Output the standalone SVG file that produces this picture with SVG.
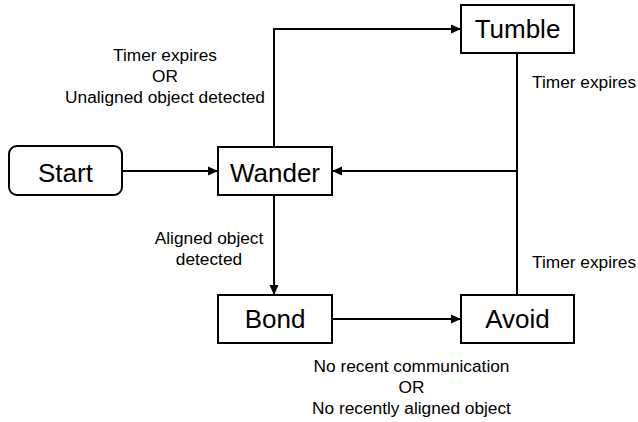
<svg xmlns="http://www.w3.org/2000/svg" width="638" height="422" viewBox="0 0 638 422">
<defs>
<style>
.box{fill:#fff;stroke:#000;stroke-width:2}
.nt{font-family:"Liberation Sans",Arial,sans-serif;font-size:26px;fill:#000;text-anchor:middle}
.lt{font-family:"Liberation Sans",Arial,sans-serif;font-size:17.3px;fill:#000}
.c{fill:none;stroke:#000;stroke-width:2}
</style>
<marker id="ah" markerUnits="userSpaceOnUse" markerWidth="12" markerHeight="12" viewBox="0 0 12 12" refX="11" refY="6" orient="auto">
<path d="M1,1.5 L11,6 L1,10.5 Z" fill="#000"/>
</marker>
</defs>
<rect width="638" height="422" fill="#fff"/>
<g id="connectors">
<path class="c" d="M122,171 H218" marker-end="url(#ah)"/>
<path class="c" d="M274,147 V29 H461" marker-end="url(#ah)"/>
<path class="c" d="M274,195 V295" marker-end="url(#ah)"/>
<path class="c" d="M332,319 H461" marker-end="url(#ah)"/>
<path class="c" d="M517,53 V171 H332" marker-end="url(#ah)"/>
<path class="c" d="M517,295 V171"/>
</g>
<g id="labels">
<text class="lt" text-anchor="middle"><tspan x="165" y="61">Timer expires</tspan><tspan x="165" y="82">OR</tspan><tspan x="165" y="103">Unaligned object detected</tspan></text>
<text class="lt" text-anchor="middle"><tspan x="209" y="244">Aligned object</tspan><tspan x="209" y="265">detected</tspan></text>
<text class="lt" x="532" y="88">Timer expires</text>
<text class="lt" x="532" y="268">Timer expires</text>
<text class="lt" text-anchor="middle"><tspan x="411.5" y="372">No recent communication</tspan><tspan x="411.5" y="393">OR</tspan><tspan x="411.5" y="414">No recently aligned object</tspan></text>
</g>
<g id="start"><rect class="box" x="9" y="146" width="113" height="49" rx="8"/><text class="nt" x="65.5" y="182">Start</text></g>
<g id="wander"><rect class="box" x="218" y="147" width="114" height="48"/><text class="nt" x="275" y="182">Wander</text></g>
<g id="tumble"><rect class="box" x="461" y="5" width="113" height="48"/><text class="nt" x="517.5" y="38">Tumble</text></g>
<g id="bond"><rect class="box" x="218" y="295" width="114" height="48"/><text class="nt" x="275" y="328">Bond</text></g>
<g id="avoid"><rect class="box" x="461" y="295" width="113" height="48"/><text class="nt" x="517.5" y="328">Avoid</text></g>
</svg>
